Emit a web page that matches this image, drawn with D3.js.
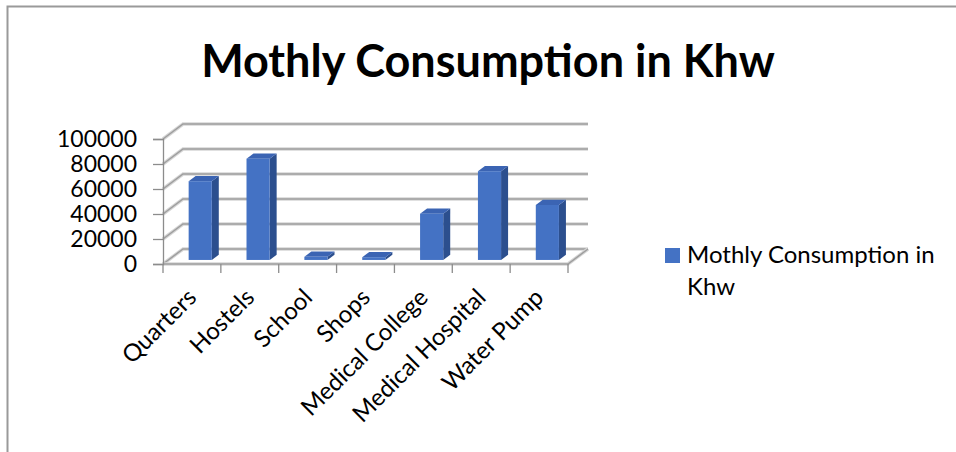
<!DOCTYPE html>
<html>
<head>
<meta charset="utf-8">
<script src="https://cdn.jsdelivr.net/npm/d3@7"></script>
<style>
  body { margin: 0; background: #fff; }
  svg { display: block; font-family: Lato, "Open Sans", sans-serif; }
</style>
</head>
<body>
<svg id="chart" width="956" height="452"></svg>
<script>
const categories = ['Quarters', 'Hostels', 'School', 'Shops', 'Medical College', 'Medical Hospital', 'Water Pump'];
const consumption = [63000, 81000, 2500, 2200, 37000, 71000, 44000];
const yTicks = [0, 20000, 40000, 60000, 80000, 100000];
const title = 'Mothly Consumption in Khw';
const legendLines = ['Mothly Consumption in', 'Khw'];

const svg = d3.select('#chart');

// frame
svg.append('path')
  .attr('d', 'M7.5,452V6.5H956')
  .attr('fill', 'none')
  .attr('stroke', '#9a9a9a')
  .attr('stroke-width', 2);

const x = d3.scaleBand().domain(categories).range([163, 568]);
const y = d3.scaleLinear().domain([0, 100000]).range([264, 139]);
// depth of the 3d box
const dx = 20, dy = -15;
const f0 = 0.27, f1 = 0.62;

// back wall gridlines + left wall diagonals
const grid = svg.append('g');
yTicks.forEach(v => {
  const d = `M${x.range()[0]},${y(v)}L${x.range()[0] + dx},${y(v) + dy}H${x.range()[1] + dx}`;
  grid.append('path').attr('d', d).attr('fill', 'none')
    .attr('stroke', '#d6d6d6').attr('stroke-width', 3.5);
  grid.append('path').attr('d', d).attr('fill', 'none')
    .attr('stroke', '#9e9e9e').attr('stroke-width', 1.5);
});

// floor right edge
const floor = `M${x.range()[0]},${y(0)}H${x.range()[1]}L${x.range()[1] + dx},${y(0) + dy}`;
svg.append('path').attr('d', floor).attr('fill', 'none')
  .attr('stroke', '#d6d6d6').attr('stroke-width', 3.5);
svg.append('path').attr('d', floor).attr('fill', 'none')
  .attr('stroke', '#9e9e9e').attr('stroke-width', 1.5);

// bars
const bars = svg.append('g');
categories.forEach((c, i) => {
  const x0 = x(c) + x.bandwidth() * 0.35 + dx * f0;
  const w = x.bandwidth() * 0.4;
  const yb = y(0) + dy * f0;
  const yt = y(consumption[i]) + dy * f0;
  const ddx = dx * (f1 - f0), ddy = dy * (f1 - f0);
  // side
  bars.append('path')
    .attr('d', `M${x0 + w},${yb}L${x0 + w + ddx},${yb + ddy}V${yt + ddy}L${x0 + w},${yt}Z`)
    .attr('fill', '#2c4f8e');
  // top
  bars.append('path')
    .attr('d', `M${x0},${yt}L${x0 + ddx},${yt + ddy}H${x0 + w + ddx}L${x0 + w},${yt}Z`)
    .attr('fill', '#3b64b3');
  // front
  bars.append('rect')
    .attr('x', x0).attr('y', yt)
    .attr('width', w).attr('height', yb - yt)
    .attr('fill', '#4472c4');
});

// y axis
const yAxis = svg.append('g')
  .attr('transform', `translate(${x.range()[0]},0)`)
  .call(d3.axisLeft(y).tickValues(yTicks).tickSize(10).tickPadding(16).tickFormat(d3.format('d')));
yAxis.select('.domain').attr('stroke', '#8c8c8c').attr('stroke-width', 1.3);
yAxis.selectAll('.tick line').attr('stroke', '#8c8c8c').attr('stroke-width', 1.3);
yAxis.selectAll('.tick text')
  .attr('font-family', 'Lato, "Open Sans", sans-serif')
  .attr('font-size', 23).attr('fill', '#000');

// x axis ticks at category boundaries
const xTickPos = categories.map(c => x(c)).concat([x.range()[1]]);
svg.append('g').selectAll('line').data(xTickPos).join('line')
  .attr('x1', d => d).attr('x2', d => d)
  .attr('y1', y(0)).attr('y2', y(0) + 9)
  .attr('stroke', '#8c8c8c').attr('stroke-width', 1.3);

// category labels
svg.append('g').selectAll('text').data(categories).join('text')
  .attr('transform', c => `translate(${x(c) + x.bandwidth() / 2 + 6},${y(0) + 35}) rotate(-45)`)
  .attr('text-anchor', 'end')
  .attr('font-size', 24)
  .attr('fill', '#000')
  .text(c => c);

// title
svg.append('text')
  .attr('x', 488).attr('y', 77)
  .attr('text-anchor', 'middle')
  .attr('font-size', 45).attr('font-weight', 'bold')
  .attr('fill', '#000')
  .text(title);

// legend
svg.append('rect')
  .attr('x', 665).attr('y', 248).attr('width', 15).attr('height', 15)
  .attr('fill', '#4472c4');
svg.append('g').selectAll('text').data(legendLines).join('text')
  .attr('x', 687).attr('y', (d, i) => 263 + i * 32)
  .attr('font-size', 24).attr('fill', '#000')
  .text(d => d);
</script>
</body>
</html>
